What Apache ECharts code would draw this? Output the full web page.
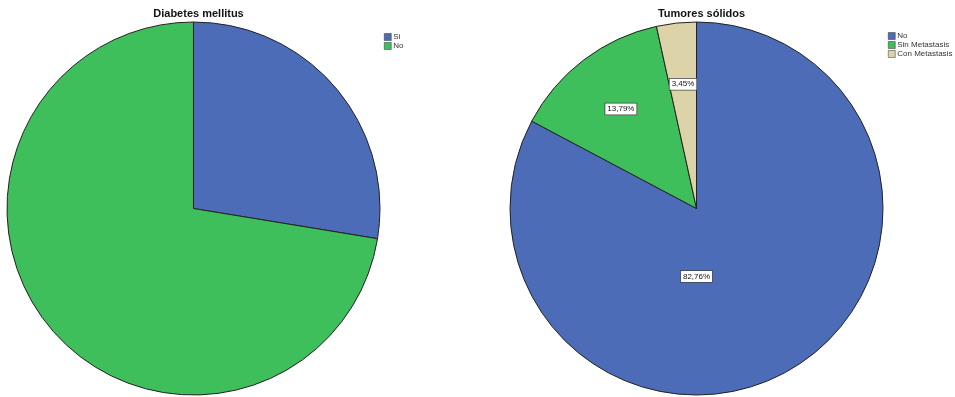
<!DOCTYPE html>
<html>
<head>
<meta charset="utf-8">
<script src="https://cdn.jsdelivr.net/npm/echarts@6/dist/echarts.min.js"></script>
<style>
  html, body { margin: 0; padding: 0; background: #fff; }
  #main { width: 955px; height: 397px; }
</style>
</head>
<body>
<div id="main"></div>
<script>
// datos (N = 29)
var diabetesCats = ['Si', 'No'];
var diabetesVals = [8, 21];
var tumorCats = ['No', 'Sin Metastasis', 'Con Metastasis'];
var tumorVals = [24, 4, 1];
var tumorLabels = ['82,76%', '13,79%', '3,45%'];

var colores = ['#4c6cb8', '#3ebf5c', '#dcd3a9'];
var R = 186.5;
var cIzq = [193.5, 208.5];
var cDer = [696.5, 208.5];

var myChart = echarts.init(document.getElementById('main'));

// posicion de etiquetas al estilo SPSS
var total = tumorVals.reduce(function (a, b) { return a + b; }, 0);
function posEtiqueta(idx) {
  if (idx === 0) return [cDer[0], cDer[1] + 68];
  var acum = 0;
  for (var i = 0; i < idx; i++) acum += tumorVals[i];
  var ang = (acum + tumorVals[idx] / 2) / total * 2 * Math.PI;
  return [cDer[0] + Math.sin(ang) * R * 0.67, cDer[1] - Math.cos(ang) * R * 0.67];
}

var legendaBase = {
  orient: 'vertical',
  itemWidth: 7,
  itemHeight: 7,
  itemGap: 1,
  icon: 'rect',
  selectedMode: false,
  textStyle: { fontSize: 8, color: '#333', fontFamily: 'Liberation Sans', padding: [0, 0, 0, -3] },
  itemStyle: { borderColor: '#333', borderWidth: 0.5 }
};

function itemsLeyenda(cats) {
  return cats.map(function (c, i) {
    return { name: c, itemStyle: { color: colores[i] } };
  });
}

var option = {
  animation: false,
  color: colores,
  title: [
    { text: 'Diabetes mellitus', left: cIzq[0], top: 3, textAlign: 'center',
      textStyle: { fontSize: 11, fontWeight: 'bold', color: '#111', fontFamily: 'Liberation Sans' } },
    { text: 'Tumores sólidos', left: cDer[0], top: 3, textAlign: 'center',
      textStyle: { fontSize: 11, fontWeight: 'bold', color: '#111', fontFamily: 'Liberation Sans' } }
  ],
  legend: [
    Object.assign({}, legendaBase, { left: 379, top: 28, data: itemsLeyenda(diabetesCats) }),
    Object.assign({}, legendaBase, { left: 883, top: 27, data: itemsLeyenda(tumorCats) })
  ],
  series: [
    {
      name: 'Diabetes mellitus',
      type: 'pie',
      center: cIzq,
      radius: R,
      startAngle: 90,
      silent: true,
      label: { show: false },
      labelLine: { show: false },
      itemStyle: { borderColor: '#222', borderWidth: 1 },
      data: diabetesCats.map(function (c, i) {
        return { name: c, value: diabetesVals[i], itemStyle: { color: colores[i] } };
      })
    },
    {
      name: 'Tumores sólidos',
      type: 'pie',
      center: cDer,
      radius: R,
      startAngle: 90,
      silent: true,
      label: {
        show: true,
        position: 'inside',
        formatter: function (p) { return tumorLabels[p.dataIndex]; },
        fontSize: 8,
        fontFamily: 'Liberation Sans',
        color: '#111',
        backgroundColor: '#fff',
        borderColor: '#444',
        borderWidth: 0.8,
        padding: [2, 2, 1, 2]
      },
      labelLine: { show: false },
      labelLayout: function (params) {
        var p = posEtiqueta(params.dataIndex);
        return { x: p[0], y: p[1], align: 'center', verticalAlign: 'middle' };
      },
      itemStyle: { borderColor: '#222', borderWidth: 1 },
      data: tumorCats.map(function (c, i) {
        return { name: c, value: tumorVals[i], itemStyle: { color: colores[i] } };
      })
    }
  ]
};
myChart.setOption(option);
</script>
</body>
</html>
